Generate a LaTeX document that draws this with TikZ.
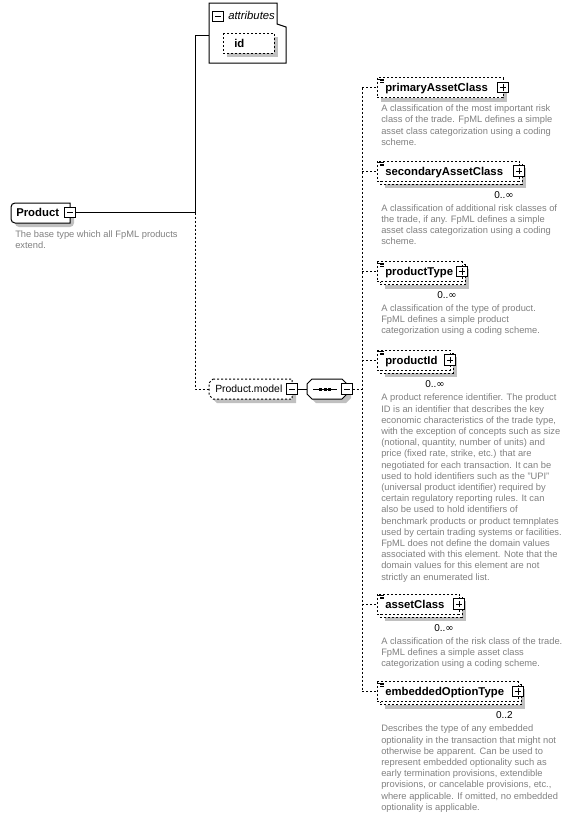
\documentclass[tikz,border=0pt]{standalone}
\usepackage{fontspec}
\setmainfont{Liberation Sans}
\newfontfamily\symfont{DejaVu Sans}
\newcommand\infsym{{\symfont ∞}}
\definecolor{shadowgray}{RGB}{192,192,192}
\definecolor{descgray}{RGB}{128,128,128}
\tikzset{
  px/.style={line width=0.75pt},
  dsh/.style={dash pattern=on 1.5pt off 1.5pt},
  lbl/.style={font=\fontsize{8.5}{10}\selectfont\bfseries, inner sep=0, anchor=base west},
  attl/.style={font=\fontsize{8.5}{10}\selectfont\itshape, inner sep=0, anchor=base west},
  pml/.style={font=\fontsize{7.8}{9}\selectfont, inner sep=0, anchor=base west},
  desc/.style={font=\fontsize{7}{8.4}\selectfont, text=descgray, align=left, inner sep=0, anchor=north west},
  mult/.style={font=\fontsize{7.5}{9}\selectfont, inner sep=0, anchor=base east},
  pmb/.style={draw, fill=white, line width=0.75pt, minimum size=7.8pt, inner sep=0},
}
\newcommand\xicon[1]{%
  \draw[line width=0.6pt] (378,#1+1.5) -- (384,#1+1.5) (380,#1+3) -- (384,#1+3) (380,#1+4.5) -- (384,#1+4.5);}
\newcommand\xplus[1]{%
  \draw[px] ([xshift=-2.4pt]#1.center) -- ([xshift=2.4pt]#1.center) ([yshift=-2.4pt]#1.center) -- ([yshift=2.4pt]#1.center);}
\newcommand\xminus[1]{%
  \draw[px] ([xshift=-2.4pt]#1.center) -- ([xshift=2.4pt]#1.center);}
\newcommand\singleelem[4]{%
  \fill[shadowgray] (381,#2-6) rectangle (#3+4,#2+14);
  \draw[px,dsh,fill=white] (377,#2-10) rectangle (#3,#2+10);
  \xicon{#2-10}
  \node[lbl] (#1) at (385,#2+4) {#4};
  \coordinate (#1-in) at (377,#2);
  \coordinate (#1-v) at (362,#2);
  \node[pmb] (#1-pm) at (#3,#2) {};
  \xplus{#1-pm}
}
\newcommand\multielem[5]{%
  \fill[shadowgray] (385,#2-3) rectangle (#3+7,#2+17);
  \draw[px,dsh,fill=white] (380,#2-7) rectangle (#3+3,#2+13);
  \draw[px,dsh,fill=white] (377,#2-10) rectangle (#3,#2+10);
  \xicon{#2-10}
  \node[lbl] (#1) at (385,#2+4) {#4};
  \coordinate (#1-in) at (377,#2);
  \coordinate (#1-v) at (362,#2);
  \node[pmb] (#1-pm) at (#3,#2) {};
  \xplus{#1-pm}
  \node[mult] (#1-m) at (#3-5,#2+27) {#5};
}
\begin{document}
\begin{tikzpicture}[x=0.75pt,y=-0.75pt]
\useasboundingbox (0,0) rectangle (572,818);

% ---------- Product ----------
\fill[shadowgray, rounded corners=3] (15,207) rectangle (74,227);
\draw[px,fill=white] (70,203) [rounded corners=3]-- (11,203) -- (11,223) [sharp corners]-- (70,223) -- cycle;
\node[lbl] (prod) at (16,216.5) {Product};
\node[pmb] (prodm) at (70,212.5) {};
\xminus{prodm}
\node[desc] (dprod) at (15,230.3) {The base type which all FpML products\\extend.};

% ---------- attributes ----------
\draw[px,fill=white] (209,3) -- (277,3) -- (277,24) -- (286,27) -- (286,63) -- (209,63) -- cycle;
\node[pmb] (attm) at (218,16.5) {};
\xminus{attm}
\node[attl] (attlbl) at (228,19.5) {attributes};
\fill[shadowgray] (227,37) rectangle (278,57);
\draw[px,dsh,fill=white] (223,33) rectangle (274,53);
\node[lbl] (idl) at (234,47) {id};
\coordinate (attin) at (209,35);

% ---------- Product.model ----------
\fill[shadowgray] (217,383) -- (296,383) -- (296,403) -- (217,403) -- (213,399) -- (213,387) -- cycle;
\draw[px,dsh,fill=white] (213,379) -- (292,379) -- (292,399) -- (213,399) -- (209,395) -- (209,383) -- cycle;
\node[pml] (pml) at (215,392.5) {Product.model};
\node[pmb] (pmm) at (292,389) {};
\xminus{pmm}
\coordinate (pmin) at (209,389);

% ---------- sequence ----------
\fill[shadowgray] (311,388) -- (316,383) -- (346,383) -- (351,388) -- (351,398) -- (346,403) -- (316,403) -- (311,398) -- cycle;
\draw[px,fill=white] (307,384) -- (312,379) -- (342,379) -- (347,384) -- (347,394) -- (342,399) -- (312,399) -- (307,394) -- cycle;
\draw[px] (313,389) -- (337,389);
\fill (319,387.5) rectangle (322,390.5);
\fill (323.5,387.5) rectangle (326.5,390.5);
\fill (328,387.5) rectangle (331,390.5);
\node[pmb] (seqm) at (347,389) {};
\xminus{seqm}
\coordinate (seqin) at (307,389);
\coordinate (vseq) at (362,389);

% ---------- children ----------
\singleelem{pac}{87.5}{503}{primaryAssetClass}
\node[desc] (d1) at (381,104.6) {A classification of the most important risk\\class of the trade. FpML defines a simple\\asset class categorization using a coding\\scheme.};

\multielem{sac}{171}{519}{secondaryAssetClass}{0..\infsym}
\node[desc] (d2) at (381,204.1) {A classification of additional risk classes of\\the trade, if any. FpML defines a simple\\asset class categorization using a coding\\scheme.};

\multielem{pt}{271.5}{462}{productType}{0..\infsym}
\node[desc] (d3) at (381,304.1) {A classification of the type of product.\\FpML defines a simple product\\categorization using a coding scheme.};

\multielem{pid}{360}{450}{productId}{0..\infsym}
\node[desc] (d4) at (381,393.9) {A product reference identifier. The product\\ID is an identifier that describes the key\\economic characteristics of the trade type,\\with the exception of concepts such as size\\(notional, quantity, number of units) and\\price (fixed rate, strike, etc.) that are\\negotiated for each transaction. It can be\\used to hold identifiers such as the "UPI"\\(universal product identifier) required by\\certain regulatory reporting rules. It can\\also be used to hold identifiers of\\benchmark products or product temnplates\\used by certain trading systems or facilities.\\FpML does not define the domain values\\associated with this element. Note that the\\domain values for this element are not\\strictly an enumerated list.};

\multielem{ac}{604}{459}{assetClass}{0..\infsym}
\node[desc] (d5) at (381,637.3) {A classification of the risk class of the trade.\\FpML defines a simple asset class\\categorization using a coding scheme.};

\multielem{eot}{691.5}{518}{embeddedOptionType}{0..2}
\node[desc] (d6) at (381,724.9) {Describes the type of any embedded\\optionality in the transaction that might not\\otherwise be apparent. Can be used to\\represent embedded optionality such as\\early termination provisions, extendible\\provisions, or cancelable provisions, etc.,\\where applicable. If omitted, no embedded\\optionality is applicable.};

% ---------- connectors ----------
\coordinate (jn) at (195,212.5);
\draw[px] (prodm.east) -- (jn);
\draw[px] (jn) |- (attin);
\draw[px,dsh] (jn) |- (pmin);
\draw[px] (pmm.east) -- (seqin);
\draw[px,dsh] (seqm.east) -- (vseq);
\draw[px,dsh] (pac-v) -- (eot-v);
\foreach \n in {pac,sac,pt,pid,ac,eot} {
  \draw[px,dsh] (\n-v) -- (\n-in);
}
\end{tikzpicture}
\end{document}
